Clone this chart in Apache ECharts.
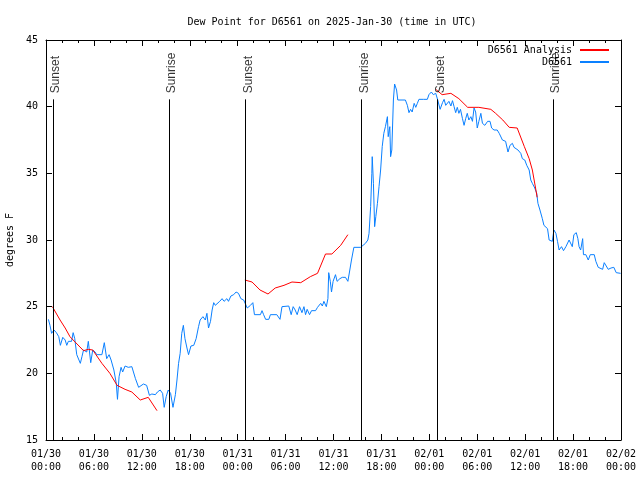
<!DOCTYPE html>
<html>
<head>
<meta charset="utf-8">
<script src="https://cdn.jsdelivr.net/npm/echarts@6/dist/echarts.min.js"></script>
<style>html,body{margin:0;padding:0;background:#fff}#c{width:640px;height:480px}</style>
</head>
<body>
<div id="c"></div>
<script>
// Hours since 2025-01-30 00:00 UTC
var obsHours = [0.3,0.5,0.7,1.0,1.3,1.6,1.8,2.1,2.4,2.6,2.8,3.2,3.4,3.6,3.85,4.3,4.5,4.7,5.1,5.3,5.6,5.85,6.15,6.35,7.0,7.3,7.6,7.9,8.15,8.5,8.8,8.95,9.15,9.4,9.6,9.9,10.3,10.75,10.95,11.2,11.4,11.6,11.8,12.2,12.6,12.95,13.25,13.7,13.95,14.3,14.6,14.8,15.05,15.3,15.6,15.9,16.2,16.4,16.6,16.8,17.0,17.2,17.4,17.65,17.85,18.15,18.5,18.8,19.1,19.3,19.65,19.95,20.15,20.35,20.6,20.8,21.0,21.2,21.4,21.75,22.05,22.3,22.65,22.85,23.15,23.5,23.8,24.1,24.4,24.75,24.95,25.2,25.4,25.6,25.9,26.1,26.85,27.05,27.25,27.5,27.9,28.1,28.9,29.3,29.55,30.4,30.7,30.95,31.2,31.45,31.75,32.05,32.3,32.5,32.7,33.0,33.25,33.75,34.0,34.4,34.6,34.8,35.1,35.3,35.4,35.6,35.75,35.95,36.25,36.45,36.8,37.1,37.5,37.8,38.0,38.25,38.55,39.4,39.7,40.0,40.3,40.45,40.65,40.8,40.85,41.0,41.15,41.3,41.5,41.7,41.9,42.1,42.3,42.5,42.75,42.85,43.05,43.15,43.3,43.5,43.65,43.9,44.05,45.0,45.25,45.45,45.65,45.85,46.1,46.3,46.5,46.7,46.9,47.25,47.75,47.95,48.25,48.5,48.8,49.05,49.35,49.65,49.85,50.05,50.25,50.45,50.7,50.9,51.1,51.3,51.5,51.7,51.9,52.15,52.35,52.55,52.75,52.95,53.2,53.4,53.6,53.8,54.0,54.2,54.45,54.65,54.95,55.3,55.6,55.8,56.1,56.5,56.75,56.95,57.15,57.55,57.85,58.1,58.4,58.6,58.8,59.1,59.45,59.65,59.95,60.2,60.5,60.7,60.9,61.2,61.45,61.6,61.85,62.15,62.35,62.6,62.8,63.0,63.2,63.4,63.6,63.85,64.05,64.25,64.55,64.8,65.1,65.5,65.7,65.9,66.1,66.4,66.6,66.75,66.95,67.2,67.3,67.6,67.9,68.15,68.65,68.85,69.15,69.4,69.7,69.9,70.1,70.4,70.75,71.1,71.4,71.95];
var obsValues = [24.05,23.6,23.0,23.25,23.05,22.75,22.1,22.7,22.5,22.1,22.4,22.4,23.05,22.6,21.4,20.75,21.25,21.75,21.6,22.4,20.8,21.75,21.6,21.4,21.4,22.3,21.1,21.4,21.0,20.25,19.25,18.05,19.75,20.45,20.1,20.55,20.45,20.5,20.1,19.6,19.75,18.95,19.1,19.2,19.1,18.35,18.45,18.4,18.6,18.75,18.5,17.45,18.25,18.75,18.5,17.45,18.4,19.5,20.75,21.5,23.0,23.6,22.6,21.9,21.4,22.05,22.1,22.6,23.5,24.0,24.25,24.0,24.5,23.4,23.9,24.75,25.3,25.1,25.05,25.4,25.6,25.4,25.6,25.4,25.8,25.9,26.1,26.0,25.6,25.5,25.5,24.9,24.75,25.1,25.3,24.4,24.4,24.7,24.4,24.05,24.05,24.4,24.4,24.05,25.0,25.05,24.4,25.0,24.75,24.4,25.0,24.55,25.0,24.4,24.8,24.4,24.7,24.7,24.95,25.25,25.05,25.4,25.0,25.6,27.55,26.9,26.1,26.9,27.4,26.9,27.1,27.2,27.2,26.9,27.6,28.5,29.45,29.45,29.6,29.75,30.0,30.5,32.5,35.0,36.25,34.25,31.0,31.75,32.75,34.0,35.25,37.0,38.0,38.5,39.25,37.75,38.5,36.25,36.75,40.5,41.7,41.25,40.5,40.5,40.1,39.55,39.8,39.6,40.25,39.95,40.25,40.55,40.45,40.55,40.55,40.9,41.1,40.9,41.0,40.5,39.8,40.3,40.55,40.1,40.2,40.4,40.05,40.45,40.0,39.55,39.95,39.5,39.8,39.1,38.6,39.1,39.5,39.0,39.25,38.9,39.9,39.6,38.4,38.9,39.5,38.75,38.6,38.9,38.9,38.4,38.25,38.25,38.0,37.9,37.5,37.4,36.6,37.1,37.25,36.95,37.05,36.75,36.5,36.1,36.0,35.6,35.25,34.5,34.25,33.9,33.5,32.75,32.25,31.6,31.1,31.1,30.85,30.0,30.1,29.9,30.75,30.5,29.9,29.25,29.5,29.2,29.5,30.0,30.1,29.5,30.4,30.55,30.1,29.5,29.25,30.1,28.9,28.9,28.5,28.9,28.9,28.4,27.95,27.8,27.8,28.3,28.3,27.8,27.9,27.95,27.55,27.5];

var anaHours = [0.8,1.76,2.4,3.0,3.4,4.7,5.3,5.85,7.0,8.0,8.9,9.9,10.75,11.8,12.8,13.9,19.0,24.9,25.8,26.8,27.8,28.7,29.8,30.8,31.9,33.1,34.0,35.0,35.8,36.9,37.8,43.0,48.8,49.6,50.7,51.7,52.8,54.2,55.7,56.3,57.2,58.0,59.0,59.9,60.5,60.9,61.3,61.5];
var anaValues = [25.0,24.0,23.4,22.75,22.5,21.7,21.8,21.75,20.75,20.0,19.1,18.8,18.6,18.0,18.2,17.2,null,27.0,26.85,26.25,25.95,26.4,26.6,26.85,26.8,27.25,27.5,28.95,28.95,29.6,30.4,null,41.3,40.9,41.0,40.6,39.95,39.95,39.8,39.5,39.0,38.45,38.4,37.0,36.1,35.25,33.9,33.2];

var sunHours = [0.88,15.4,24.97,39.5,49.05,63.5];
var sunNames = ['Sunset','Sunrise','Sunset','Sunrise','Sunset','Sunrise'];

var yMin = 15, yMax = 45, yStep = 5;
var xMin = 0, xMax = 72, xStep = 6;
var titleText = 'Dew Point for D6561 on 2025-Jan-30 (time in UTC)';
var seriesNames = ['D6561 Analysis', 'D6561'];

var MONO = '"DejaVu Sans Mono", "Liberation Mono", monospace';

function pad(n){return (n<10?'0':'')+n;}
function fmtX(v){
  var d = 30 + Math.floor(v/24), m = 1;
  if (d > 31) { d -= 31; m = 2; }
  var h = Math.round(v % 24);
  return pad(m)+'/'+pad(d)+'\n'+pad(h)+':00';
}

var obsData = obsHours.map(function(h,i){return [h, obsValues[i]];});
var anaData = anaHours.map(function(h,i){return [h, anaValues[i]==null?'-':anaValues[i]];});
var sunLabelY = 41.0, sunLineTop = 40.55;
var sunData = sunHours.map(function(h,i){return {name: sunNames[i], value:[h, sunLabelY]};});
var sunLines = sunHours.map(function(h){return [{coord:[h, yMin]},{coord:[h, sunLineTop]}];});

var chart = echarts.init(document.getElementById('c'), null, {renderer:'canvas'});
var axisCommon = {
  axisLine:{show:true, onZero:false, lineStyle:{color:'#000', width:1}},
  splitLine:{show:false}
};
chart.setOption({
  animation:false,
  backgroundColor:'#fff',
  title:{text:titleText, left:327, top:12, textAlign:'center',
    textStyle:{fontFamily:MONO, fontSize:10, fontWeight:'normal', color:'#000'}},
  grid:{left:46, right:19, top:40, bottom:40, containLabel:false, outerBoundsMode:'none'},
  legend:{
    data:seriesNames, orient:'vertical', right:26, top:40, align:'right',
    itemWidth:29, itemHeight:2, itemGap:2, icon:'rect',
    textStyle:{fontFamily:MONO, fontSize:10, color:'#000', padding:[0,3,0,0]}
  },
  xAxis:[
    Object.assign({type:'value', min:xMin, max:xMax, interval:xStep, position:'bottom',
      axisTick:{show:true, inside:true, length:6, lineStyle:{color:'#000'}},
      minorTick:{show:true, splitNumber:3, length:3, lineStyle:{color:'#000'}},
      axisLabel:{formatter:fmtX, fontFamily:MONO, fontSize:10, color:'#000', lineHeight:13, margin:8}
    }, axisCommon),
    Object.assign({type:'value', min:xMin, max:xMax, interval:xStep, position:'top',
      axisTick:{show:true, inside:true, length:6, lineStyle:{color:'#000'}},
      minorTick:{show:true, splitNumber:3, length:3, lineStyle:{color:'#000'}},
      axisLabel:{show:false}
    }, axisCommon)
  ],
  yAxis:[
    Object.assign({type:'value', min:yMin, max:yMax, interval:yStep, position:'left',
      name:'degrees F', nameLocation:'middle', nameRotate:90, nameGap:31,
      nameTextStyle:{fontFamily:MONO, fontSize:10, color:'#000'},
      axisTick:{show:true, inside:true, length:6, lineStyle:{color:'#000'}},
      axisLabel:{fontFamily:MONO, fontSize:10, color:'#000', margin:8}
    }, axisCommon),
    Object.assign({type:'value', min:yMin, max:yMax, interval:yStep, position:'right',
      axisTick:{show:true, inside:true, length:6, lineStyle:{color:'#000'}},
      axisLabel:{show:false}
    }, axisCommon)
  ],
  series:[
    {name:seriesNames[0], type:'line', data:anaData, showSymbol:false, connectNulls:false,
      lineStyle:{color:'#ff0000', width:1}, itemStyle:{color:'#ff0000'}, z:3},
    {name:seriesNames[1], type:'line', data:obsData, showSymbol:false,
      lineStyle:{color:'#0a80ff', width:1}, itemStyle:{color:'#0a80ff'}, z:2},
    {name:'sun', type:'scatter', data:sunData, symbolSize:0, silent:true, z:4,
      label:{show:true, formatter:'{b}', position:'inside', rotate:90, align:'left', verticalAlign:'middle',
        offset:[0,3],
        fontFamily:'"Liberation Sans", Arial, sans-serif', fontSize:12, color:'#000'},
      markLine:{silent:true, symbol:['none','none'], label:{show:false},
        lineStyle:{color:'#000', width:1, type:'solid'}, data:sunLines}
    }
  ]
});
</script>
</body>
</html>
